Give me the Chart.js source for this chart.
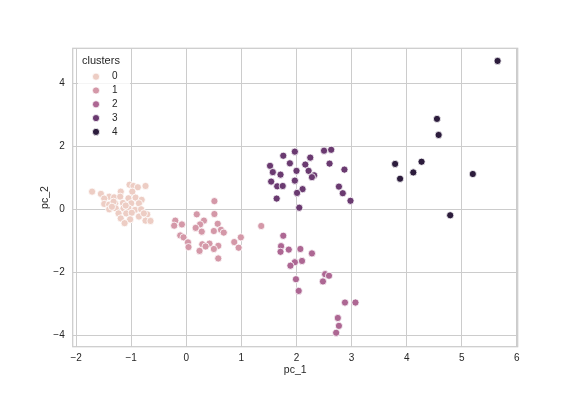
<!DOCTYPE html>
<html>
<head>
<meta charset="utf-8">
<script src="https://cdn.jsdelivr.net/npm/chart.js@4"></script>
<style>
  body { margin: 0; background: #ffffff; }
  #wrap { width: 576px; height: 396px; }
</style>
</head>
<body>
<div id="wrap"><canvas id="scatterCanvas" width="576" height="396"></canvas></div>
<script>
// Cluster names and colours (cubehelix, light -> dark)
const clusterNames = ["0", "1", "2", "3", "4"];
const clusterColors = ["#edcdc4", "#d498a8", "#ad6793", "#6a3a70", "#2c1c3c"];

// Tick values
const xTicks = [-2, -1, 0, 1, 2, 3, 4, 5, 6];
const yTicks = [-4, -2, 0, 2, 4];

// pc_1 / pc_2 per cluster
const c0x = [-1.71, -1.55, -1.40, -1.03, -0.96, -0.88, -0.74, -1.19, -0.98, -1.49, -1.31, -1.20, -1.05, -0.92, -0.81, -1.49, -1.40, -1.29, -1.15, -1.00, -0.86, -1.40, -1.28, -1.14, -1.05, -0.93, -0.82, -1.23, -1.09, -0.99, -0.71, -1.19, -1.02, -0.86, -0.74, -0.65, -1.12, -1.32, -0.77, -1.35, -1.10];
const c0y = [0.56, 0.49, 0.40, 0.78, 0.74, 0.70, 0.74, 0.56, 0.56, 0.34, 0.38, 0.40, 0.35, 0.37, 0.30, 0.17, 0.15, 0.19, 0.20, 0.19, 0.19, 0.00, 0.03, 0.03, 0.03, -0.02, 0.00, -0.13, -0.13, -0.11, -0.16, -0.29, -0.32, -0.23, -0.36, -0.37, -0.44, 0.24, -0.13, 0.08, 0.12];

const c1x = [0.51, 0.19, 0.51, -0.20, -0.22, -0.08, 0.32, 0.25, 0.57, 0.17, 0.28, 0.50, 0.63, 0.68, -0.11, -0.05, 0.03, 0.04, 0.29, 0.42, 0.35, 0.58, 0.50, 0.24, 0.58, 0.87, 0.99, 0.95, 1.36];
const c1y = [0.26, -0.16, -0.15, -0.36, -0.52, -0.48, -0.36, -0.48, -0.46, -0.59, -0.71, -0.69, -0.65, -0.74, -0.83, -0.89, -1.05, -1.20, -1.11, -1.09, -1.18, -1.16, -1.26, -1.32, -1.56, -1.04, -0.89, -1.22, -0.53];

const c2x = [1.76, 1.72, 1.71, 1.86, 2.07, 2.28, 1.97, 2.10, 1.89, 2.52, 2.59, 2.48, 1.99, 2.04, 2.88, 3.07, 2.75, 2.77, 2.72];
const c2y = [-0.84, -1.17, -1.35, -1.28, -1.26, -1.40, -1.68, -1.64, -1.79, -2.06, -2.11, -2.29, -2.22, -2.59, -2.96, -2.96, -3.45, -3.70, -3.92];

const c3x = [1.76, 1.97, 2.25, 2.50, 2.63, 1.52, 1.88, 2.16, 2.60, 1.57, 1.71, 2.00, 2.22, 2.32, 2.28, 2.87, 1.54, 1.97, 1.65, 1.75, 2.11, 2.01, 2.77, 2.84, 2.98, 1.64, 2.05];
const c3y = [1.70, 1.83, 1.64, 1.86, 1.89, 1.38, 1.46, 1.42, 1.45, 1.18, 1.10, 1.22, 1.22, 1.08, 1.02, 1.26, 0.88, 0.91, 0.73, 0.74, 0.64, 0.52, 0.72, 0.51, 0.27, 0.34, 0.05];

const c4x = [5.65, 4.55, 4.58, 3.79, 3.88, 4.27, 4.12, 5.20, 4.79];
const c4y = [4.71, 2.87, 2.36, 1.44, 0.97, 1.51, 1.17, 1.12, -0.19];

const clusterX = [c0x, c1x, c2x, c3x, c4x];
const clusterY = [c0y, c1y, c2y, c3y, c4y];

const textColor = "#262626";
const gridColor = "#cccccc";
const fontFamily = "'Liberation Sans', Arial, sans-serif";

const datasets = clusterNames.map((name, i) => ({
  label: name,
  data: clusterX[i].map((x, j) => ({ x: x, y: clusterY[i][j] })),
  backgroundColor: clusterColors[i],
  borderColor: "#ffffff",
  pointRadius: 3.6,
  pointBorderWidth: 0.8,
  pointHoverRadius: 3.6,
}));

const fmt = (v) => (v < 0 ? "\u2212" + Math.abs(v) : String(v));

// box round the plot area (top and right spines too)
const frame = {
  id: "frame",
  afterDraw(chart) {
    const { ctx, chartArea: a } = chart;
    ctx.save();
    ctx.strokeStyle = gridColor;
    ctx.lineWidth = 1.25;
    ctx.strokeRect(a.left, a.top, a.right - a.left, a.bottom - a.top);
    ctx.restore();
  },
};

// seaborn style legend inside the axes, upper left
const clusterLegend = {
  id: "clusterLegend",
  afterDraw(chart) {
    const ctx = chart.ctx;
    ctx.save();
    ctx.fillStyle = "rgba(255,255,255,0.8)";
    ctx.fillRect(78, 50, 52, 92);
    ctx.fillStyle = textColor;
    ctx.font = "11px " + fontFamily;
    ctx.textBaseline = "middle";
    ctx.textAlign = "left";
    ctx.fillText("clusters", 82, 61);
    ctx.font = "10px " + fontFamily;
    clusterNames.forEach((name, i) => {
      const y = 76.7 + i * 13.8;
      ctx.beginPath();
      ctx.arc(96, y, 3.6, 0, Math.PI * 2);
      ctx.fillStyle = clusterColors[i];
      ctx.fill();
      ctx.strokeStyle = "#ffffff";
      ctx.lineWidth = 0.8;
      ctx.stroke();
      ctx.fillStyle = textColor;
      ctx.fillText(name, 112, y);
    });
    ctx.restore();
  },
};

const scatterConfig = {
  type: "scatter",
  data: { datasets: datasets },
  options: {
    responsive: false,
    animation: false,
    devicePixelRatio: 1,
    layout: { padding: { top: 48.3, right: 58.3, left: 0, bottom: 0 } },
    scales: {
      x: {
        type: "linear",
        min: -2.062,
        max: 6.015,
        afterBuildTicks: (scale) => { scale.ticks = xTicks.map((v) => ({ value: v })); },
        afterFit: (scale) => { scale.height = 49.3; },
        grid: { color: gridColor, lineWidth: 1, drawTicks: false },
        border: { display: false },
        ticks: {
          color: textColor,
          padding: 6,
          font: { family: fontFamily, size: 10 },
          callback: fmt,
        },
        title: {
          display: true,
          text: "pc_1",
          color: textColor,
          font: { family: fontFamily, size: 10.5 },
          padding: { top: 0, bottom: 20 },
        },
      },
      y: {
        type: "linear",
        min: -4.362,
        max: 5.111,
        afterBuildTicks: (scale) => { scale.ticks = yTicks.map((v) => ({ value: v })); },
        afterFit: (scale) => { scale.width = 72.7; },
        grid: { color: gridColor, lineWidth: 1, drawTicks: false },
        border: { display: false },
        ticks: {
          color: textColor,
          padding: 8,
          font: { family: fontFamily, size: 10 },
          callback: fmt,
        },
        title: {
          display: true,
          text: "pc_2",
          color: textColor,
          font: { family: fontFamily, size: 10.5 },
          padding: { top: 38.5, bottom: 0 },
        },
      },
    },
    plugins: {
      legend: { display: false },
      tooltip: { enabled: false },
    },
  },
  plugins: [frame, clusterLegend],
};

const scatterChart = new Chart(document.getElementById("scatterCanvas"), scatterConfig);
</script>
</body>
</html>
